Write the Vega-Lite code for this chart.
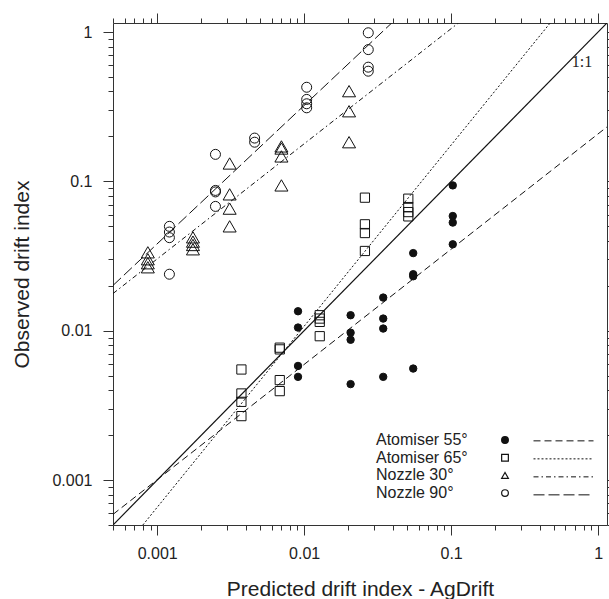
{
  "$schema": "https://vega.github.io/schema/vega-lite/v6.json",
  "width": 494,
  "height": 502,
  "autosize": {"type": "none"},
  "padding": {"left": 113, "top": 23, "right": 2, "bottom": 74},
  "background": "white",
  "config": {
    "view": {"stroke": null},
    "font": "Liberation Sans",
    "axis": {
      "grid": false,
      "domainColor": "#333",
      "tickColor": "#333",
      "labelColor": "#222",
      "titleColor": "#222",
      "labelFont": "Liberation Sans",
      "titleFont": "Liberation Sans",
      "labelFontSize": 16,
      "titleFontSize": 21,
      "titleFontWeight": "normal",
      "labelOverlap": false,
      "labelFlush": false
    },
    "legend": {"padding": 0, "symbolStrokeColor": "#111", "symbolStrokeWidth": 1.2}
  },
  "datasets": {
    "pts": [
      {"group": "Atomiser 55°", "predicted": 0.00908, "observed": 0.0135},
      {"group": "Atomiser 55°", "predicted": 0.00908, "observed": 0.0105},
      {"group": "Atomiser 55°", "predicted": 0.00908, "observed": 0.00581},
      {"group": "Atomiser 55°", "predicted": 0.00908, "observed": 0.00491},
      {"group": "Atomiser 55°", "predicted": 0.0207, "observed": 0.0127},
      {"group": "Atomiser 55°", "predicted": 0.0207, "observed": 0.0097},
      {"group": "Atomiser 55°", "predicted": 0.0207, "observed": 0.0087},
      {"group": "Atomiser 55°", "predicted": 0.0207, "observed": 0.00439},
      {"group": "Atomiser 55°", "predicted": 0.0345, "observed": 0.01667},
      {"group": "Atomiser 55°", "predicted": 0.0345, "observed": 0.01206},
      {"group": "Atomiser 55°", "predicted": 0.0345, "observed": 0.01034},
      {"group": "Atomiser 55°", "predicted": 0.0345, "observed": 0.00491},
      {"group": "Atomiser 55°", "predicted": 0.0552, "observed": 0.0331},
      {"group": "Atomiser 55°", "predicted": 0.0552, "observed": 0.0239},
      {"group": "Atomiser 55°", "predicted": 0.0552, "observed": 0.02315},
      {"group": "Atomiser 55°", "predicted": 0.0552, "observed": 0.00558},
      {"group": "Atomiser 55°", "predicted": 0.1026, "observed": 0.094},
      {"group": "Atomiser 55°", "predicted": 0.1026, "observed": 0.0586},
      {"group": "Atomiser 55°", "predicted": 0.1026, "observed": 0.053},
      {"group": "Atomiser 55°", "predicted": 0.1026, "observed": 0.0379},
      {"group": "Atomiser 65°", "predicted": 0.00374, "observed": 0.0055},
      {"group": "Atomiser 65°", "predicted": 0.00374, "observed": 0.0038},
      {"group": "Atomiser 65°", "predicted": 0.00374, "observed": 0.00334},
      {"group": "Atomiser 65°", "predicted": 0.00374, "observed": 0.00268},
      {"group": "Atomiser 65°", "predicted": 0.00682, "observed": 0.0077},
      {"group": "Atomiser 65°", "predicted": 0.00682, "observed": 0.0075},
      {"group": "Atomiser 65°", "predicted": 0.00682, "observed": 0.00467},
      {"group": "Atomiser 65°", "predicted": 0.00682, "observed": 0.00394},
      {"group": "Atomiser 65°", "predicted": 0.01276, "observed": 0.0127},
      {"group": "Atomiser 65°", "predicted": 0.01276, "observed": 0.01206},
      {"group": "Atomiser 65°", "predicted": 0.01276, "observed": 0.01146},
      {"group": "Atomiser 65°", "predicted": 0.01276, "observed": 0.00919},
      {"group": "Atomiser 65°", "predicted": 0.0259, "observed": 0.0778},
      {"group": "Atomiser 65°", "predicted": 0.0259, "observed": 0.0516},
      {"group": "Atomiser 65°", "predicted": 0.0259, "observed": 0.0451},
      {"group": "Atomiser 65°", "predicted": 0.0259, "observed": 0.0342},
      {"group": "Atomiser 65°", "predicted": 0.0511, "observed": 0.0766},
      {"group": "Atomiser 65°", "predicted": 0.0511, "observed": 0.0673},
      {"group": "Atomiser 65°", "predicted": 0.0511, "observed": 0.0623},
      {"group": "Atomiser 65°", "predicted": 0.0511, "observed": 0.0583},
      {"group": "Nozzle 30°", "predicted": 0.000863, "observed": 0.0335},
      {"group": "Nozzle 30°", "predicted": 0.000863, "observed": 0.0301},
      {"group": "Nozzle 30°", "predicted": 0.000863, "observed": 0.0283},
      {"group": "Nozzle 30°", "predicted": 0.000863, "observed": 0.0266},
      {"group": "Nozzle 30°", "predicted": 0.00175, "observed": 0.0422},
      {"group": "Nozzle 30°", "predicted": 0.00175, "observed": 0.0395},
      {"group": "Nozzle 30°", "predicted": 0.00175, "observed": 0.0375},
      {"group": "Nozzle 30°", "predicted": 0.00175, "observed": 0.0351},
      {"group": "Nozzle 30°", "predicted": 0.00311, "observed": 0.1318},
      {"group": "Nozzle 30°", "predicted": 0.00311, "observed": 0.0819},
      {"group": "Nozzle 30°", "predicted": 0.00311, "observed": 0.0657},
      {"group": "Nozzle 30°", "predicted": 0.00311, "observed": 0.05},
      {"group": "Nozzle 30°", "predicted": 0.007, "observed": 0.1715},
      {"group": "Nozzle 30°", "predicted": 0.007, "observed": 0.166},
      {"group": "Nozzle 30°", "predicted": 0.007, "observed": 0.147},
      {"group": "Nozzle 30°", "predicted": 0.007, "observed": 0.094},
      {"group": "Nozzle 30°", "predicted": 0.0202, "observed": 0.402},
      {"group": "Nozzle 30°", "predicted": 0.0202, "observed": 0.295},
      {"group": "Nozzle 30°", "predicted": 0.0202, "observed": 0.183},
      {"group": "Nozzle 90°", "predicted": 0.00121, "observed": 0.05},
      {"group": "Nozzle 90°", "predicted": 0.00121, "observed": 0.0458},
      {"group": "Nozzle 90°", "predicted": 0.00121, "observed": 0.042},
      {"group": "Nozzle 90°", "predicted": 0.00121, "observed": 0.0239},
      {"group": "Nozzle 90°", "predicted": 0.00249, "observed": 0.1517},
      {"group": "Nozzle 90°", "predicted": 0.00249, "observed": 0.087},
      {"group": "Nozzle 90°", "predicted": 0.00249, "observed": 0.085},
      {"group": "Nozzle 90°", "predicted": 0.00249, "observed": 0.068},
      {"group": "Nozzle 90°", "predicted": 0.0046, "observed": 0.195},
      {"group": "Nozzle 90°", "predicted": 0.0046, "observed": 0.183},
      {"group": "Nozzle 90°", "predicted": 0.0104, "observed": 0.427},
      {"group": "Nozzle 90°", "predicted": 0.0104, "observed": 0.354},
      {"group": "Nozzle 90°", "predicted": 0.0104, "observed": 0.331},
      {"group": "Nozzle 90°", "predicted": 0.0104, "observed": 0.311},
      {"group": "Nozzle 90°", "predicted": 0.0273, "observed": 0.989},
      {"group": "Nozzle 90°", "predicted": 0.0273, "observed": 0.763},
      {"group": "Nozzle 90°", "predicted": 0.0273, "observed": 0.582},
      {"group": "Nozzle 90°", "predicted": 0.0273, "observed": 0.547}
    ],
    "fits": [
      {"fit": "Atomiser 55°", "predicted": 0.0005, "observed": 0.000589},
      {"fit": "Atomiser 55°", "predicted": 1.15, "observed": 0.2317},
      {"fit": "Atomiser 65°", "predicted": 0.000798, "observed": 0.0005},
      {"fit": "Atomiser 65°", "predicted": 0.472, "observed": 1.15},
      {"fit": "Nozzle 30°", "predicted": 0.0005, "observed": 0.01774},
      {"fit": "Nozzle 30°", "predicted": 0.112, "observed": 1.15},
      {"fit": "Nozzle 90°", "predicted": 0.0005, "observed": 0.0201},
      {"fit": "Nozzle 90°", "predicted": 0.0394, "observed": 1.15}
    ],
    "oneone": [
      {"predicted": 0.0005, "observed": 0.0005},
      {"predicted": 1.15, "observed": 1.15}
    ],
    "note": [
      {"label": "1:1", "predicted": 0.777, "observed": 0.63}
    ]
  },
  "layer": [
    {
      "data": {"name": "pts"},
      "mark": {"type": "point", "strokeWidth": 1, "opacity": 1},
      "encoding": {
        "x": {
          "field": "predicted", "type": "quantitative",
          "scale": {"type": "log", "domain": [0.0005, 1.15], "nice": false},
          "axis": {
            "orient": "bottom",
            "title": "Predicted drift index - AgDrift",
            "titleY": 70, "titleBaseline": "alphabetic",
            "values": [0.0005,0.0006,0.0007,0.0008,0.0009,0.001,0.002,0.003,0.004,0.005,0.006,0.007,0.008,0.009,0.01,0.02,0.03,0.04,0.05,0.06,0.07,0.08,0.09,0.1,0.2,0.3,0.4,0.5,0.6,0.7,0.8,0.9,1],
            "labelExpr": "datum.value == 0.001 ? '0.001' : datum.value == 0.01 ? '0.01' : datum.value == 0.1 ? '0.1' : datum.value == 1 ? '1' : ''",
            "tickSize": {"condition": {"test": "datum.value == 0.001 || datum.value == 0.01 || datum.value == 0.1 || datum.value == 1", "value": 10}, "value": 5},
            "labelBaseline": "alphabetic",
            "labelPadding": 23
          }
        },
        "y": {
          "field": "observed", "type": "quantitative",
          "scale": {"type": "log", "domain": [0.0005, 1.15], "nice": false},
          "axis": {
            "orient": "left",
            "title": "Observed drift index",
            "titleX": -85, "titleY": 251, "titleAngle": 270, "titleBaseline": "alphabetic", "titleAlign": "center",
            "values": [0.0005,0.0006,0.0007,0.0008,0.0009,0.001,0.002,0.003,0.004,0.005,0.006,0.007,0.008,0.009,0.01,0.02,0.03,0.04,0.05,0.06,0.07,0.08,0.09,0.1,0.2,0.3,0.4,0.5,0.6,0.7,0.8,0.9,1],
            "labelExpr": "datum.value == 0.001 ? '0.001' : datum.value == 0.01 ? '0.01' : datum.value == 0.1 ? '0.1' : datum.value == 1 ? '1' : ''",
            "tickSize": {"condition": {"test": "datum.value == 0.001 || datum.value == 0.01 || datum.value == 0.1 || datum.value == 1", "value": 10}, "value": 5},
            "labelPadding": 11
          }
        },
        "shape": {
          "field": "group", "type": "nominal",
          "scale": {"domain": ["Atomiser 55°", "Atomiser 65°", "Nozzle 30°", "Nozzle 90°"], "range": ["circle", "square", "triangle-up", "circle"]},
          "legend": {
            "orient": "none", "legendX": 384, "legendY": 409,
            "title": null,
            "labelFontSize": 16, "labelFont": "Liberation Sans", "labelColor": "#222",
            "symbolSize": 45, "symbolStrokeWidth": 1.2,
            "labelOffset": -137, "rowPadding": 1.7, "labelLimit": 200
          }
        },
        "fill": {
          "field": "group", "type": "nominal",
          "scale": {"domain": ["Atomiser 55°", "Atomiser 65°", "Nozzle 30°", "Nozzle 90°"], "range": ["#111", "transparent", "transparent", "transparent"]},
          "legend": {
            "orient": "none", "legendX": 384, "legendY": 409,
            "title": null,
            "labelFontSize": 16, "labelFont": "Liberation Sans", "labelColor": "#222",
            "symbolSize": 45, "symbolStrokeWidth": 1.2,
            "labelOffset": -137, "rowPadding": 1.7, "labelLimit": 200
          }
        },
        "stroke": {
          "field": "group", "type": "nominal",
          "scale": {"domain": ["Atomiser 55°", "Atomiser 65°", "Nozzle 30°", "Nozzle 90°"], "range": ["#111", "#111", "#111", "#111"]},
          "legend": {
            "orient": "none", "legendX": 384, "legendY": 409,
            "title": null,
            "labelFontSize": 16, "labelFont": "Liberation Sans", "labelColor": "#222",
            "symbolSize": 45, "symbolStrokeWidth": 1.2,
            "labelOffset": -137, "rowPadding": 1.7, "labelLimit": 200
          }
        },
        "size": {
          "field": "group", "type": "nominal",
          "scale": {"type": "ordinal", "range": [55, 85, 170, 100]},
          "legend": null
        }
      }
    },
    {
      "data": {"name": "fits"},
      "mark": {"type": "line", "stroke": "#111", "strokeWidth": 1, "clip": true},
      "encoding": {
        "x": {
          "field": "predicted", "type": "quantitative",
          "scale": {"type": "log", "domain": [0.0005, 1.15], "nice": false},
          "axis": {
            "orient": "top", "title": null, "labels": false,
            "values": [0.0005,0.0006,0.0007,0.0008,0.0009,0.001,0.002,0.003,0.004,0.005,0.006,0.007,0.008,0.009,0.01,0.02,0.03,0.04,0.05,0.06,0.07,0.08,0.09,0.1,0.2,0.3,0.4,0.5,0.6,0.7,0.8,0.9,1],
            "tickSize": {"condition": {"test": "datum.value == 0.001 || datum.value == 0.01 || datum.value == 0.1 || datum.value == 1", "value": 10}, "value": 5}
          }
        },
        "y": {
          "field": "observed", "type": "quantitative",
          "scale": {"type": "log", "domain": [0.0005, 1.15], "nice": false},
          "axis": {
            "orient": "right", "title": null, "labels": false,
            "values": [0.0005,0.0006,0.0007,0.0008,0.0009,0.001,0.002,0.003,0.004,0.005,0.006,0.007,0.008,0.009,0.01,0.02,0.03,0.04,0.05,0.06,0.07,0.08,0.09,0.1,0.2,0.3,0.4,0.5,0.6,0.7,0.8,0.9,1],
            "tickSize": {"condition": {"test": "datum.value == 0.001 || datum.value == 0.01 || datum.value == 0.1 || datum.value == 1", "value": 10}, "value": 5}
          }
        },
        "strokeDash": {
          "field": "fit", "type": "nominal",
          "scale": {"range": [[7, 4], [2, 2], [5, 3, 1.5, 3], [11, 4]]},
          "legend": {
            "orient": "none", "legendX": 420, "legendY": 409,
            "title": null,
            "symbolType": "stroke", "symbolSize": 3600, "symbolStrokeColor": "#111", "symbolStrokeWidth": 1,
            "labelExpr": "''", "clipHeight": 17.7, "rowPadding": 0
          }
        }
      }
    },
    {
      "data": {"name": "oneone"},
      "mark": {"type": "line", "stroke": "#111", "strokeWidth": 1.2, "clip": true},
      "encoding": {
        "x": {"field": "predicted", "type": "quantitative", "scale": {"type": "log", "domain": [0.0005, 1.15], "nice": false}, "axis": null},
        "y": {"field": "observed", "type": "quantitative", "scale": {"type": "log", "domain": [0.0005, 1.15], "nice": false}, "axis": null}
      }
    },
    {
      "data": {"name": "note"},
      "mark": {"type": "text", "font": "Liberation Serif", "fontSize": 16, "color": "#222", "align": "center", "baseline": "middle"},
      "encoding": {
        "x": {"field": "predicted", "type": "quantitative", "scale": {"type": "log", "domain": [0.0005, 1.15], "nice": false}, "axis": null},
        "y": {"field": "observed", "type": "quantitative", "scale": {"type": "log", "domain": [0.0005, 1.15], "nice": false}, "axis": null},
        "text": {"field": "label"}
      }
    }
  ],
  "resolve": {"axis": {"x": "independent", "y": "independent"}}
}
